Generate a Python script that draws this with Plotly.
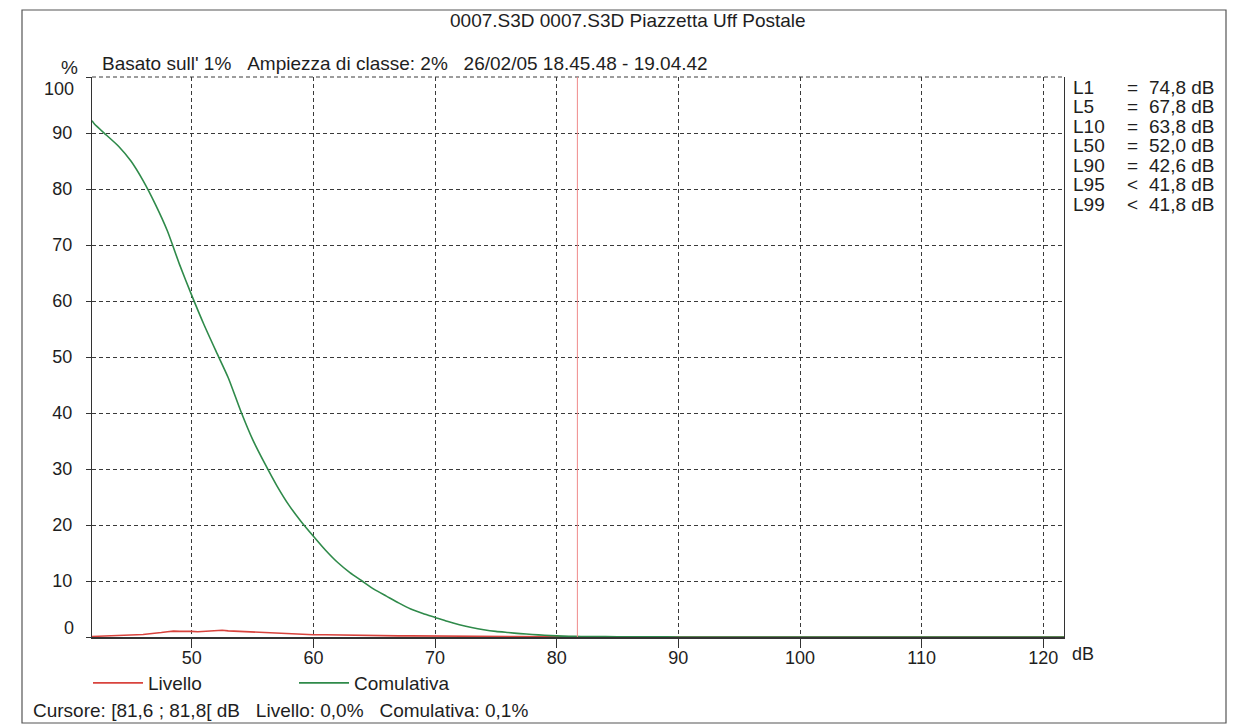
import plotly.graph_objects as go

# ---- data ----
cum_db = [41.8, 42, 43, 44, 45, 46, 47, 48, 49, 50, 51, 52, 53, 54, 55, 56, 57, 58, 59, 60,
          61, 62, 63, 64, 65, 66, 67, 68, 69, 70, 71, 72, 73, 74, 75, 76, 77, 78, 79, 80,
          81, 82, 84, 86, 88, 90, 95, 121.7]
cum_pct = [92.2, 91.6, 89.6, 87.6, 85.0, 81.5, 77.3, 72.5, 66.5, 61.0, 55.8, 51.0, 46.3, 40.5,
           35.3, 31.0, 27.0, 23.5, 20.6, 18.0, 15.5, 13.3, 11.5, 10.0, 8.5, 7.3, 6.1, 5.0, 4.2,
           3.5, 2.8, 2.2, 1.7, 1.3, 1.0, 0.8, 0.6, 0.45, 0.3, 0.2, 0.12, 0.1, 0.06, 0.04, 0.02,
           0.01, 0.0, 0.0]

lev_db = [41.8, 42.5, 43, 43.5, 44, 44.5, 45, 45.5, 46, 46.5, 47, 47.5, 48, 48.5, 49, 49.5,
          50, 50.5, 51, 51.5, 52, 52.5, 53, 53.5, 54, 54.5, 55, 55.5, 56, 56.5, 57, 57.5, 58,
          58.5, 59, 59.5, 60, 61, 62, 63, 64, 65, 66, 67, 68, 69, 70, 72, 74, 76, 78, 80, 82,
          85, 90, 121.7]
lev_pct = [0.1, 0.15, 0.1, 0.2, 0.2, 0.25, 0.35, 0.4, 0.45, 0.55, 0.6, 0.8, 0.95, 1.05, 1.0,
           1.05, 1.0, 0.95, 1.0, 1.1, 1.05, 1.2, 1.1, 1.05, 1.0, 0.95, 0.85, 0.8, 0.75, 0.7,
           0.7, 0.6, 0.6, 0.55, 0.5, 0.45, 0.4, 0.4, 0.35, 0.3, 0.3, 0.25, 0.25, 0.2, 0.2,
           0.18, 0.15, 0.12, 0.1, 0.07, 0.05, 0.03, 0.02, 0.01, 0.0, 0.0]

cursor_db = 81.7
x_ticks = [50, 60, 70, 80, 90, 100, 110, 120]
y_ticks = [0, 10, 20, 30, 40, 50, 60, 70, 80, 90, 100]
y_ticktext = ["", "10", "20", "30", "40", "50", "60", "70", "80", "90", ""]

stat_names = ["L1", "L5", "L10", "L50", "L90", "L95", "L99"]
stat_ops = ["=", "=", "=", "=", "=", "<", "<"]
stat_vals = ["74,8 dB", "67,8 dB", "63,8 dB", "52,0 dB", "42,6 dB", "41,8 dB", "41,8 dB"]

title_text = "0007.S3D 0007.S3D Piazzetta Uff Postale"
sub_text = "Basato sull' 1%   Ampiezza di classe: 2%   26/02/05 18.45.48 - 19.04.42"
cursor_text = "Cursore: [81,6 ; 81,8[ dB   Livello: 0,0%   Comulativa: 0,1%"

FONT = "Liberation Sans, Arial, sans-serif"
TXT = "#1e1e1e"
GRID = "#3a3a3a"

fig = go.Figure()
fig.add_trace(go.Scatter(x=lev_db, y=lev_pct, mode="lines", name="Livello",
                         line=dict(color="#d8433d", width=1.6)))
fig.add_trace(go.Scatter(x=cum_db, y=cum_pct, mode="lines", name="Comulativa",
                         line=dict(color="#2f8a4a", width=1.6, shape="spline", smoothing=0.6)))

# page offset of the figure (body margin) is 8 px
OFF = 8
W, H = 1249 - OFF, 726 - OFF
L, R, T, B = 92 - OFF, 1249 - 1064, 77 - OFF, 726 - 637
pw, ph = W - L - R, H - T - B


def px(x):  # page pixel -> paper
    return (x - OFF - L) / pw


def py(y):
    return (H - B - (y - OFF)) / ph


fig.update_layout(
    width=W, height=H,
    margin=dict(l=L, r=R, t=T, b=B),
    paper_bgcolor="white", plot_bgcolor="white",
    font=dict(family=FONT, size=19, color=TXT),
    showlegend=True,
    legend=dict(orientation="h", x=px(88), xanchor="left", y=py(683), yanchor="middle",
                entrywidth=141, entrywidthmode="pixels", font=dict(size=19, color=TXT),
                bgcolor="rgba(0,0,0,0)", itemwidth=50),
    xaxis=dict(range=[41.8, 121.7], tickvals=x_ticks, showgrid=True, gridcolor=GRID,
               griddash="4px,3px", gridwidth=1, showline=True, linecolor="#333",
               linewidth=1.5, ticks="outside", ticklen=9, tickcolor="#333",
               zeroline=False, ticklabelstandoff=-5, tickfont=dict(size=18, color=TXT)),
    yaxis=dict(range=[0, 100], tickvals=y_ticks, ticktext=y_ticktext, showgrid=True,
               gridcolor=GRID, griddash="4px,3px", gridwidth=1, showline=True, mirror=True,
               linecolor="#333", linewidth=1.2, ticks="outside", ticklen=5,
               tickcolor="#333", zeroline=False, ticklabelstandoff=10,
               tickfont=dict(size=18, color=TXT)),
)

# dashed top grid line (100 %), drawn on the top edge of the plot area
fig.add_shape(type="line", xref="paper", yref="paper", x0=0, x1=1, y0=1, y1=1,
              line=dict(color=GRID, width=1, dash="4px,3px"), layer="above")

# cursor line
fig.add_shape(type="line", xref="x", yref="paper", x0=cursor_db, x1=cursor_db, y0=0, y1=1,
              line=dict(color="#f08a8a", width=1))

# outer frame
fig.add_shape(type="rect", xref="paper", yref="paper",
              x0=px(22), x1=px(1226), y0=py(723), y1=py(10),
              line=dict(color="#555", width=1.2), layer="below")

ann = []
ann.append(dict(text=title_text, x=px(628), y=py(21), xanchor="center", yanchor="middle",
                font=dict(size=19, color=TXT)))
ann.append(dict(text="%", x=px(69), y=py(67), xanchor="center", yanchor="middle",
                font=dict(size=19, color=TXT)))
ann.append(dict(text=sub_text.replace(" ", "&nbsp;"), x=px(100), y=py(63), xanchor="left",
                yanchor="middle", font=dict(size=19, color=TXT)))
ann.append(dict(text="100", x=px(76), y=py(89), xanchor="right", yanchor="middle",
                font=dict(size=18, color=TXT)))
ann.append(dict(text="0", x=px(76), y=py(628), xanchor="right", yanchor="middle",
                font=dict(size=18, color=TXT)))
ann.append(dict(text="dB", x=px(1070), y=py(654), xanchor="left", yanchor="middle",
                font=dict(size=18, color=TXT)))
ann.append(dict(text=cursor_text.replace(" ", "&nbsp;"), x=px(31), y=py(710),
                xanchor="left", yanchor="middle", font=dict(size=19, color=TXT)))
for i, (n, o, v) in enumerate(zip(stat_names, stat_ops, stat_vals)):
    yy = py(87 + i * 19.5)
    ann.append(dict(text=n, x=px(1071), y=yy, xanchor="left", yanchor="middle",
                    font=dict(size=19, color=TXT)))
    ann.append(dict(text=o, x=px(1132), y=yy, xanchor="center", yanchor="middle",
                    font=dict(size=19, color=TXT)))
    ann.append(dict(text=v, x=px(1217), y=yy, xanchor="right", yanchor="middle",
                    font=dict(size=19, color=TXT)))
for a in ann:
    a.update(xref="paper", yref="paper", showarrow=False)
fig.update_layout(annotations=ann)

fig.write_html("out.html")
